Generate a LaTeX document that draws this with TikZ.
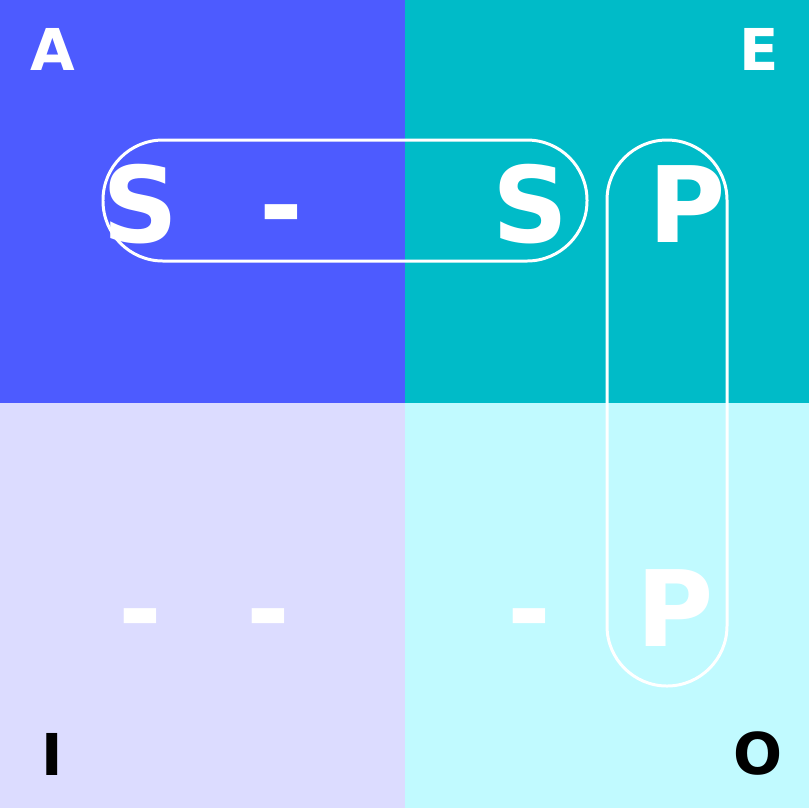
\documentclass[tikz,border=0pt]{standalone}
\usepackage{fontspec}
\setmainfont{DejaVu Sans}
\usepackage{tikz}

\definecolor{quadA}{HTML}{4D5BFF}
\definecolor{quadE}{HTML}{00BBC8}
\definecolor{quadI}{HTML}{DCDCFF}
\definecolor{quadO}{HTML}{C1FAFF}

\tikzset{
  term/.style={text=white,inner sep=0pt,anchor=base,font=\fontsize{30}{30}\selectfont\bfseries},
  corner/.style={inner sep=0pt,anchor=base,font=\fontsize{16.4}{16.4}\selectfont\bfseries},
  pill/.style={draw=white,line width=0.85pt,rounded corners=0.6cm}
}

\begin{document}
\begin{tikzpicture}[x=0.01cm,y=-0.01cm]
  \useasboundingbox (0,0) rectangle (809,808);
  % the four quadrants of the square
  \fill[quadA] (0,0) rectangle (405,403);
  \fill[quadE] (405,0) rectangle (809,403);
  \fill[quadI] (0,403) rectangle (405,808);
  \fill[quadO] (405,403) rectangle (809,808);
  % corner letters
  \node[corner,text=white] (lA) at (53,70) {A};
  \node[corner,text=white] (lE) at (759,70) {E};
  \node[corner,text=black] (lI) at (52,775) {I};
  \node[corner,text=black] (lO) at (758,774) {O};
  % terms, upper row
  \node[term] (s1) at (140,242) {S};
  \node[term] (n1) at (281,242) {-};
  \node[term] (s2) at (530,242) {S};
  \node[term] (p1) at (687,242) {P};
  % terms, lower row
  \node[term] (n2) at (140,646) {-};
  \node[term] (n3) at (268,646) {-};
  \node[term] (n4) at (529,646) {-};
  \node[term] (p2) at (675,646) {P};
  % the two rings
  \draw[pill] (103,140) rectangle (587,261);
  \draw[pill] (607,140) rectangle (727,686);
\end{tikzpicture}
\end{document}
